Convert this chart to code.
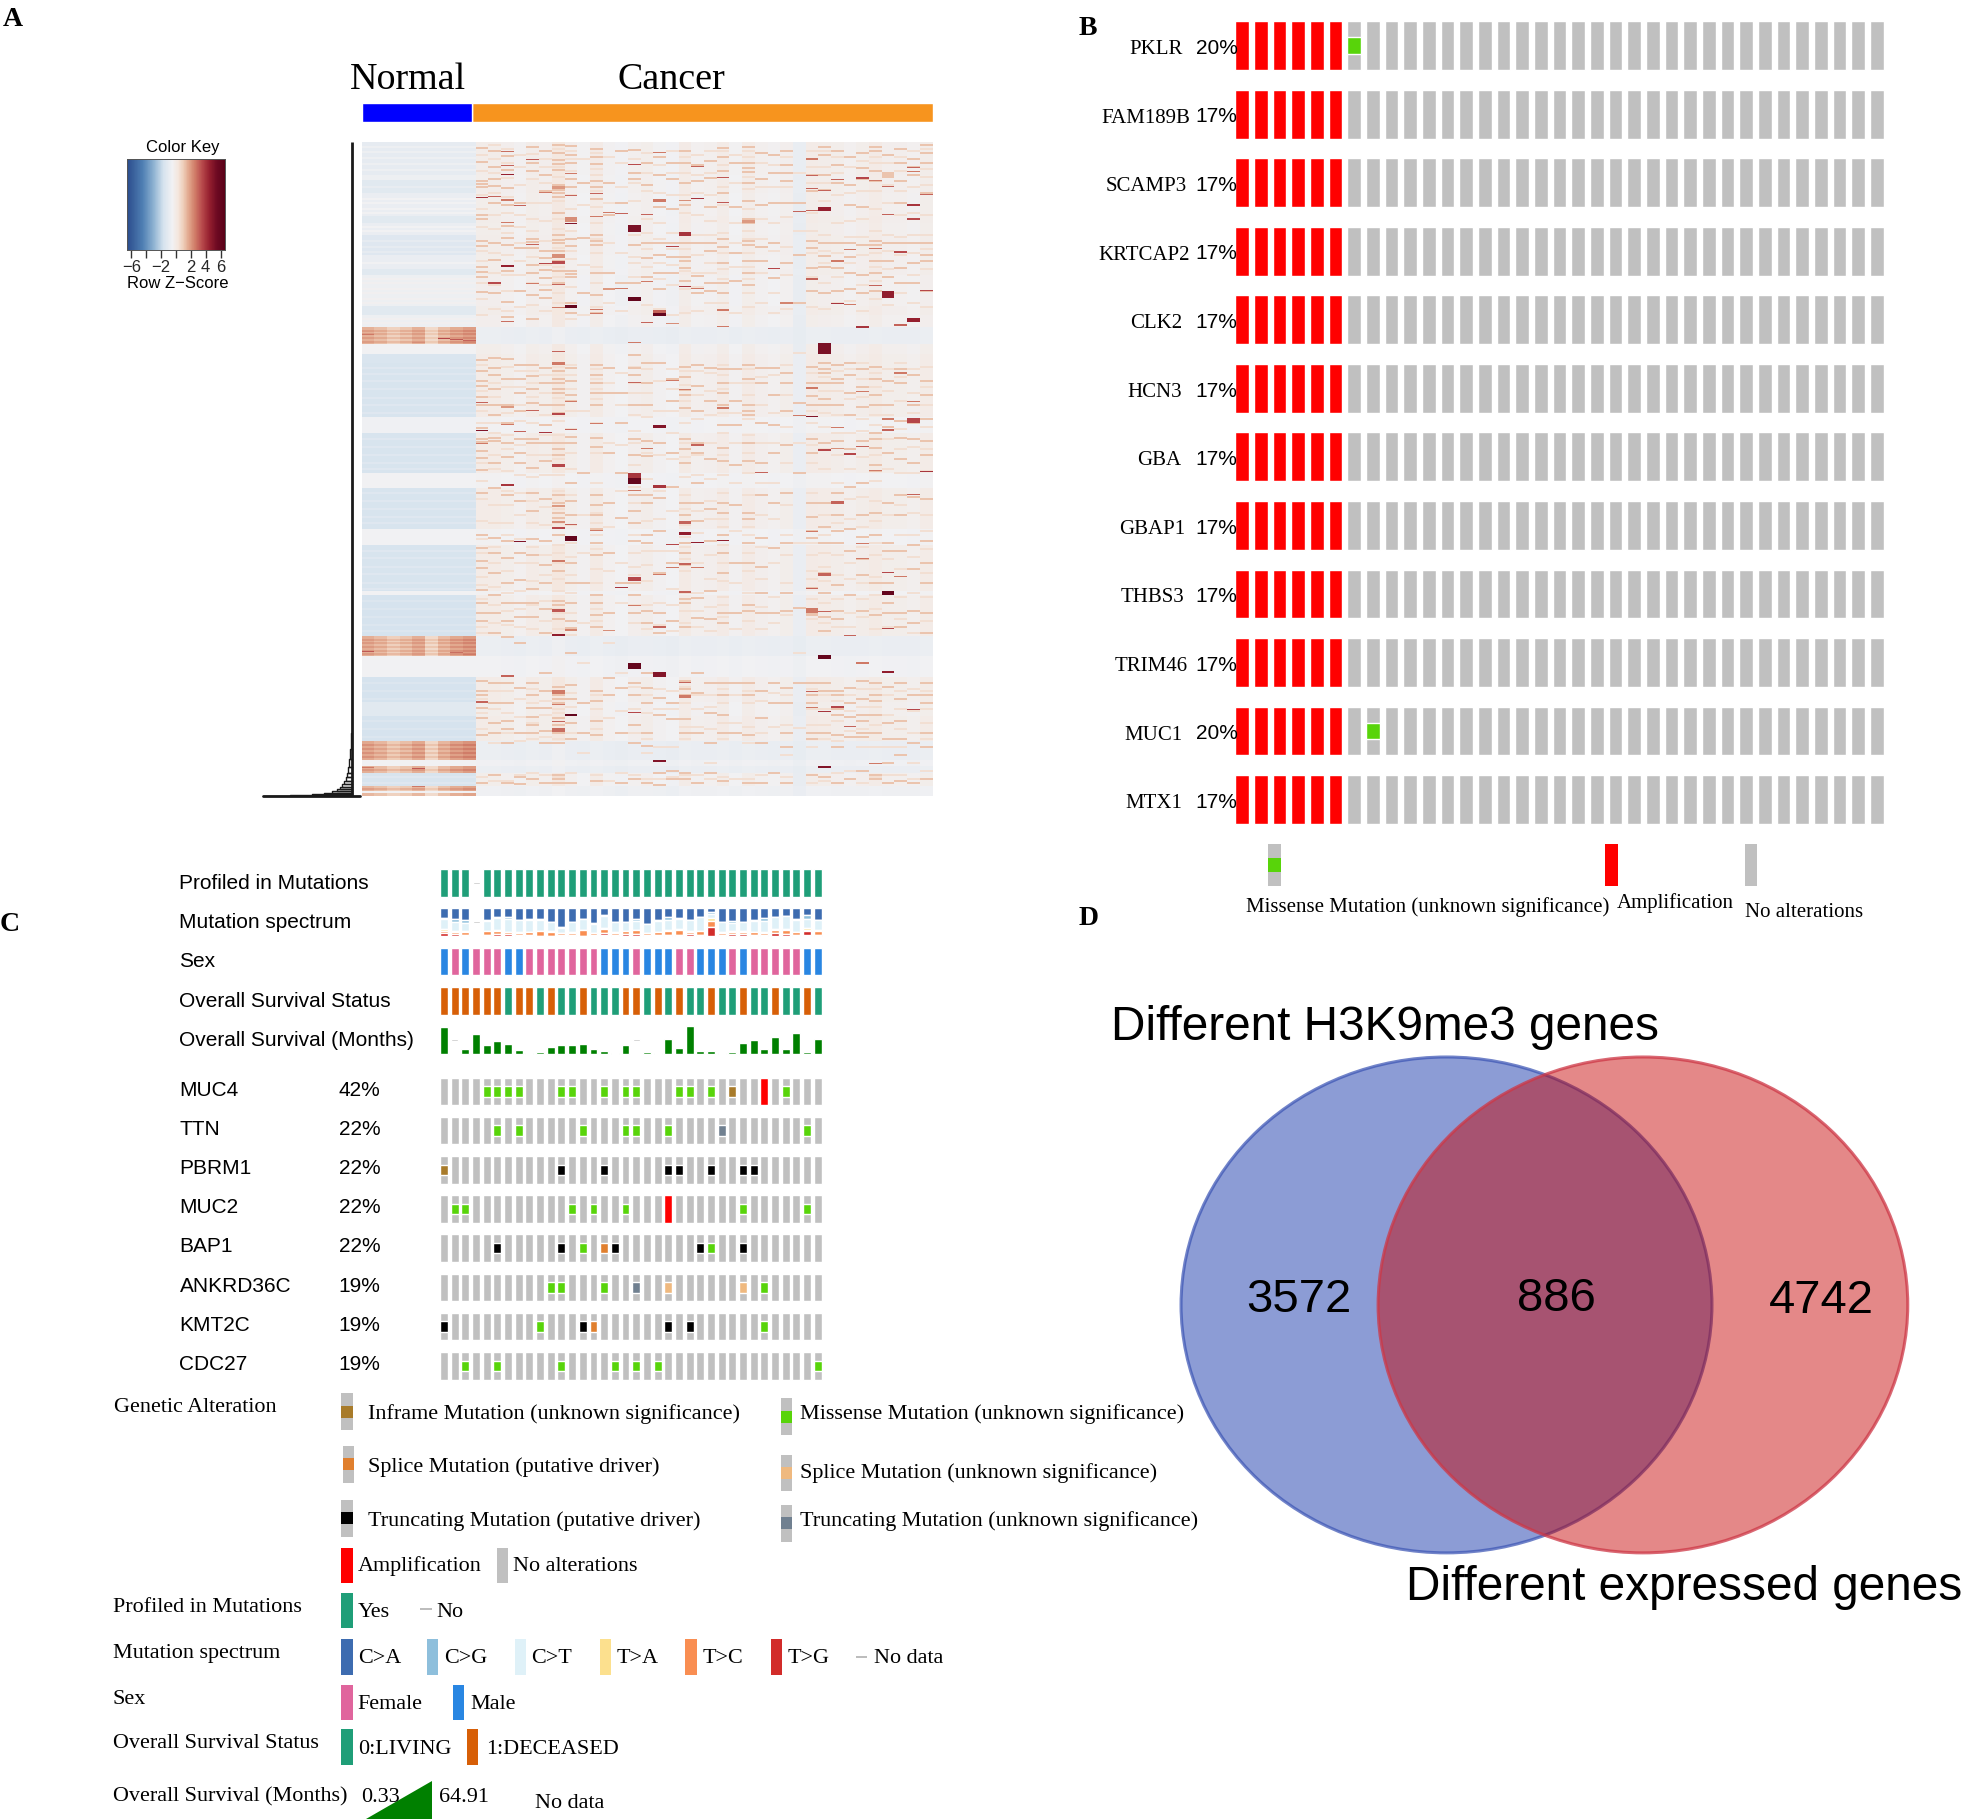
import numpy as np, pandas as pd, matplotlib
matplotlib.use('Agg')
import matplotlib.pyplot as plt, seaborn as sns
from matplotlib.colors import LinearSegmentedColormap
from matplotlib.patches import Ellipse, Rectangle, Polygon

W, H = 1968, 1819
SERIF = 'Liberation Serif'; SANS = 'Liberation Sans'
sns.set_theme(style='white')
plt.rcParams['font.family'] = [SANS, 'DejaVu Sans']

# ------------------------------ Panel A data
n_rows = 654
band_ends   = [33,38,51,74,81,93,113,127,133,164,173,185,202,212,221,275,291,331,346,387,403,449,453,494,514,535,560,574,599,618,624,631,644,649,651,654]
band_normal = [-1.0,-.7,-1.2,-.8,-1.2,-.8,-1.3,-.8,-1.2,-.7,-1.2,-.7,1.25,-.5,-1.5,-1.6,-.6,-1.6,-.5,-1.6,-.5,-1.6,-.5,-1.7,1.3,-.5,-1.7,-1.2,-1.7,1.4,-.5,1.3,-1.6,1.2,-.5,1.2]
band_cancer = [-.45,-.5,-.45,-.5,-.45,-.5,-.45,-.5,-.45,-.52,-.45,-.52,-.85,-.5,-.4,-.4,-.55,-.4,-.55,-.4,-.55,-.4,-.55,-.4,-.85,-.6,-.4,-.5,-.4,-.85,-.65,-.85,-.5,-.7,-.7,-.7]
normal_col_weight = [1.2,1.0,.7,.9,1.2,.5,1.0,1.3,1.5]
normal_stripe_rows = [188,191,195,199,497,500,504,508,511,602,606,610,614,627,646]
normal_pale_rows = [4,9,15,21,27,44,56,60,66,70,84,88,98,104,109,120,136,140,146,150,156,160,176,180,225,231,238,246,255,262,270,296,304,312,320,326,350,358,366,374,380,408,415,424,431,440,446,458,466,474,482,488,540,548,556,578,586,594,634,640]
normal_hot = [(0,192,2.6),(4,200,2.2),(6,196,3.6),(7,197,3.2),(8,198,3.0),(0,509,3.2),(7,510,2.8),(8,512,2.6),(0,625,2.6),(4,626,3.2),(8,627,2.4),(4,644,2.6)]
cancer_tint = [.3,.3,.2,.05,.3,.2,.65,.2,.0,.4,.05,-.1,.15,.25,.0,-.1,.4,.1,.15,.35,.0,.35,.15,.05,.2,-.4,.35,.3,.25,.1,.25,.4,.2,.2,.1,.3]

mid_rows = [
 [5,19,38,41,44,72,76,98,103,124,129,134,149,217,228,238,243,254,262,285,296,299,308,315,327,350,392,405,418,425,447,460,470,478,538,548,552,565,575,592,640],
 [8,24,36,43,60,100,117,150,215,225,232,246,262,272,295,298,320,345,395,410,430,452,470,490,540,560,580,590,632],
 [13,27,45,62,83,95,102,128,159,174,216,236,262,280,300,314,352,398,415,440,460,478,494,540,560,578,586,600,640],
 [60,105,148,222,236,250,268,296,310,320,358,410,437,460,474,500,545,590,634,641],
 [4,20,28,96,99,105,122,130,152,176,222,233,246,260,296,300,325,350,368,396,412,446,460,474,540,552,565,574,582,590,636],
 [8,32,48,108,115,127,135,147,155,225,240,262,282,300,318,356,398,422,440,466,490,530,548,565,588,600,640],
 [2,10,17,21,27,42,44,47,50,54,70,92,97,100,108,118,128,140,220,228,236,240,246,250,262,270,300,306,312,352,360,370,375,392,428,458,462,476,544,552,556,560,575,582,590,600,632,636,640],
 [3,12,20,36,44,75,96,103,128,131,134,160,170,225,238,252,258,294,300,340,358,372,395,420,440,460,478,485,510,542,556,580,596,640],
 [40,95,150,330,440,560,590],
 [6,14,21,38,44,56,92,98,102,130,152,170,222,232,240,250,262,295,304,352,362,372,386,400,412,452,460,472,484,548,558,578,592,638],
 [40,72,130,225,250,310,360,410,470,535,552],
 [8,60,140,250,280,330,375,440,545,590,640],
 [7,30,36,102,140,212,225,232,262,296,312,352,368,380,398,440,452,470,540,552,582,600,636],
 [20,42,100,115,134,220,240,262,298,313,352,360,392,400,468,480,530,545,560,590,603,640],
 [14,32,64,100,112,130,146,220,300,355,388,430,470,490,555,572,630,642],
 [20,36,66,100,114,130,236,258,310,344,420,478,560,576,628,636],
 [8,20,40,62,100,114,118,125,138,224,234,247,252,265,296,306,320,360,372,390,400,410,422,456,460,484,538,546,552,576,590,630,636],
 [22,38,100,133,150,222,243,268,300,310,340,360,378,455,475,530,550,590,640],
 [18,35,64,100,108,140,148,225,258,316,366,398,448,476,540,570,600,630],
 [5,14,28,50,96,104,120,140,150,226,240,250,262,282,305,318,360,370,392,410,430,470,480,540,552,572,590,638],
 [20,64,110,138,226,258,282,322,362,420,470,540,590],
 [4,20,25,29,40,58,76,80,98,102,118,130,142,222,236,262,268,272,300,318,370,376,400,420,462,468,540,552,592,640],
 [10,36,62,104,118,225,240,280,320,352,395,424,450,470,548,575,600,640],
 [12,30,60,100,135,225,252,282,310,360,405,470,540,560,630],
 [8,22,30,38,60,120,230,240,268,302,350,400,450,468,545,560,590,604,640],
 [60,112,160,260,330,465,540],
 [16,32,48,98,105,125,148,224,240,253,262,296,310,360,374,388,395,445,468,470,472,540,552,560,590,596,632],
 [4,12,32,47,100,113,124,150,220,226,230,240,256,262,300,360,384,400,430,450,474,488,540,548,590,634],
 [8,22,40,100,118,125,148,222,236,240,262,298,350,372,388,400,442,468,476,548,552,566,572,592,604,640],
 [14,42,62,100,114,130,146,220,232,250,272,306,344,386,408,452,545,560,574,594,636],
 [10,25,36,64,102,132,150,226,244,264,298,340,372,394,416,432,468,538,556,572,578,590,594,628],
 [4,8,28,38,98,102,118,130,148,224,236,252,262,290,296,305,322,328,370,392,440,472,540,552,558,572,590,632,636],
 [12,30,32,34,100,118,134,238,262,284,310,360,400,408,440,460,470,544,580,596,620,640],
 [6,20,38,60,100,125,140,226,240,278,295,316,352,372,408,470,484,540,556,578,596,612,638],
 [16,24,32,100,120,140,232,262,280,296,320,354,402,426,468,480,552,600,640],
 [2,10,20,50,100,112,118,148,238,252,276,298,312,356,398,420,440,470,490,540,552,560,590,604,636],
]
faint_rows = [
 [12,28,52,66,84,108,118,140,156,172,222,248,268,280,320,338,356,378,396,410,434,442,456,484,490,556,570,586,634],
 [2,16,30,50,72,86,110,130,142,166,240,254,280,290,312,326,362,380,404,420,444,462,480,548,566,600,638],
 [6,20,35,54,70,90,112,132,148,168,224,244,270,292,306,328,348,362,380,392,428,450,468,482,548,570,590,638],
 [12,24,42,72,84,100,118,132,164,228,244,262,278,302,332,350,372,396,420,448,466,484,556,574,598,632],
 [11,36,60,76,88,114,140,162,228,240,254,280,312,334,358,380,404,420,438,462,486,546,560,580,596,630],
 [16,24,40,60,78,98,122,142,168,232,250,272,292,312,332,364,382,412,432,458,478,558,572,594,632],
 [6,24,34,58,76,86,105,114,124,134,150,160,224,232,255,278,292,316,332,348,366,380,402,410,420,436,448,466,470,486,548,566,570,586,596,634],
 [8,16,28,52,66,88,108,116,144,176,222,232,246,268,286,310,326,352,382,400,414,432,450,470,492,550,564,590,630],
 [16,62,122,172,268,372,410,480,520,610],
 [10,26,32,48,64,80,96,110,124,140,164,226,236,246,256,280,310,340,370,380,392,406,426,440,466,478,552,566,586,632],
 [14,60,100,160,240,300,384,428,500,575,638],
 [20,44,110,168,230,262,302,348,420,460,530,568,630],
 [16,40,58,92,114,120,134,156,224,240,250,272,288,300,322,344,360,392,410,424,432,462,480,544,566,590,632],
 [10,30,48,76,90,106,124,162,226,250,274,310,336,378,408,422,438,462,486,552,570,596,610,636],
 [22,50,80,96,120,136,166,238,268,312,348,376,408,460,482,546,566,604,636],
 [8,30,52,90,106,122,142,172,226,246,268,290,316,368,408,446,462,488,548,566,604,634],
 [14,30,52,70,92,106,128,146,170,228,242,258,280,300,314,334,352,366,382,394,404,416,428,450,468,480,544,560,584,596,632],
 [12,32,50,72,92,112,130,144,168,228,252,276,312,332,368,390,420,450,468,484,552,566,584,632],
 [8,30,52,78,92,120,130,160,230,248,272,300,336,358,376,412,436,464,488,552,564,586,620,636],
 [8,22,44,62,90,110,126,136,160,222,232,246,270,290,312,332,350,376,384,402,420,438,454,462,474,546,560,580,596,634],
 [12,40,80,100,124,170,240,270,300,340,388,440,486,552,580,636],
 [8,14,34,46,66,88,96,110,124,136,150,164,226,240,252,276,292,310,330,352,384,392,410,428,450,478,548,560,584,600,636],
 [20,44,76,96,130,160,234,262,300,340,372,404,436,464,486,558,590,632],
 [22,44,80,108,150,170,232,270,300,340,376,420,454,480,550,584,630],
 [14,44,74,104,132,166,222,252,284,320,362,392,412,440,472,552,582,612,634],
 [30,88,210,300,400,510,585],
 [8,24,40,70,88,110,134,164,230,268,280,302,320,350,400,412,428,436,456,476,546,566,582,604,640],
 [8,24,40,58,92,108,120,140,166,234,248,270,284,306,326,372,392,410,424,438,460,480,552,566,582,596,638],
 [14,30,52,80,110,134,160,228,248,272,290,312,340,360,380,412,432,456,484,558,578,598,630],
 [24,50,78,94,120,158,226,256,290,326,356,376,420,436,470,484,552,568,588,628],
 [18,48,76,94,112,142,168,220,236,254,276,288,314,354,384,404,440,456,474,546,564,586,604,640],
 [14,20,48,66,88,110,124,138,156,230,244,272,282,312,338,358,378,400,412,434,452,466,486,546,564,582,604,634],
 [20,42,60,92,108,126,162,226,248,272,296,326,372,416,450,484,552,572,604,632],
 [14,28,48,72,94,112,150,220,234,258,286,306,330,362,392,426,454,476,548,566,586,604,632],
 [8,44,70,92,110,132,160,226,250,270,304,330,370,392,414,450,490,546,568,590,620,636],
 [6,26,34,42,72,92,106,126,164,224,244,262,284,306,328,372,388,406,430,454,478,548,566,580,596,628],
]
# (cancer column, first row, thickness in rows, z-score)
hot_streaks = [
 (0,55,1,4),(1,54,1,3),(1,140,2,3.5),(2,9,1,2.8),(2,23,1,3),(2,32,1,4.5),(2,57,2,2.6),(2,80,1,2.6),(2,123,2,4.5),(2,179,1,2.8),
 (3,63,1,3),(4,17,1,3.2),(4,102,1,3),(4,141,1,2.6),(5,50,1,2.6),(5,121,1,3.6),(6,44,3,2),(6,119,3,3.5),(6,112,4,2.2),(6,142,1,3),(6,165,1,2.6),(6,209,1,3),
 (7,31,1,2.6),(7,53,1,3),(7,81,1,5),(7,75,5,2.2),(7,163,3,6),(9,51,1,3),(9,74,1,2.6),(9,167,1,2.6),(9,171,1,2.6),(10,70,1,2.6),(10,146,2,2),(11,71,1,3),(11,146,1,2.6),
 (12,22,1,3.5),(12,83,7,5.2),(12,155,4,6),(12,200,1,2.6),(13,72,1,3),(13,180,1,3),(13,139,1,2.6),(14,10,1,2.6),(14,57,3,2.6),(14,168,3,3),(14,171,3,6),
 (15,104,1,3.6),(15,181,1,2.2),(16,90,4,4),(16,144,1,4),(16,58,1,2.2),(17,24,1,3),(17,56,1,4),(17,146,1,2.6),(19,35,1,3.2),(19,60,1,3.2),(19,167,2,2.6),(19,184,1,2.6),
 (21,78,3,2),(23,126,1,3.6),(24,160,2,2.4),(25,69,1,3),(26,16,2,2.6),(26,33,1,3),(26,46,1,3),(26,68,1,3),(26,136,2,3),(27,48,1,3),(27,65,4,4.5),(27,201,11,5.2),
 (28,37,1,3),(28,161,1,4),(28,118,2,2.6),(29,107,1,2.6),(29,162,1,2.6),(30,35,2,3.6),(30,184,2,4),(31,38,1,2.6),(31,106,1,2.6),(31,143,1,3),
 (32,44,1,3),(32,72,1,3),(32,149,7,4.6),(33,109,2,3.5),(33,182,2,3),(34,25,1,3),(34,29,1,2.6),(34,62,2,4),(34,76,2,3.5),(34,176,4,4.5),(35,52,1,3),(35,148,1,3.6),
 (0,260,1,3),(0,288,1,5),(0,301,1,2.6),(2,264,2,2),(2,282,1,2.6),(2,342,2,4),(3,289,1,3),(3,399,1,5),(4,268,1,3),(5,290,1,4),(6,220,3,2.6),(6,271,2,3.6),(6,322,3,3.6),(6,363,2,2),(6,385,2,3.6),(6,379,2,2.2),(6,418,2,2.6),
 (7,259,1,2.6),(7,287,1,3),(7,382,1,3),(7,394,5,6),(9,281,1,2.6),(9,388,1,2.6),(12,240,1,3),(12,331,5,4),(12,336,6,6),(12,348,1,2.6),(12,435,4,3.6),(13,306,1,2.6),
 (14,283,3,5),(14,343,3,4),(14,432,1,2.6),(15,238,1,2.6),(15,402,1,3.6),(15,425,1,2.6),(16,247,1,2.6),(16,379,3,3),(16,390,3,4.6),(16,421,2,3),(17,302,2,3),(17,400,1,4.6),(17,425,1,2.6),
 (19,265,2,2.6),(19,398,1,4.6),(22,330,1,3),(25,273,1,2.6),(26,245,2,2.6),(26,274,1,5),(26,389,1,2.6),(27,307,2,3.6),(27,431,3,3),(28,285,1,2.6),(28,359,3,3),(28,306,1,2.2),(29,311,2,3.6),
 (30,304,1,3),(30,249,1,2.6),(30,401,1,2.6),(30,416,1,2.6),(31,328,1,2.6),(32,287,2,3),(32,276,2,2.6),(32,430,1,3.6),(33,230,2,2.6),(33,434,1,2.6),(34,276,5,3.6),(34,259,1,2.6),(34,352,1,3),(35,329,1,4),
 (6,467,3,3.2),(6,492,2,4.6),(6,548,4,2.6),(6,586,4,2.8),(6,579,1,3),(6,562,1,2.6),(7,572,2,6),(7,487,2,2.4),(11,445,1,4),(12,521,6,6),(12,463,1,2.6),(12,570,1,3.6),(14,484,2,3),(14,530,5,5),(14,618,2,5),
 (16,449,2,3),(16,553,3,2.6),(16,540,1,3),(10,488,1,2.2),(2,533,2,3),(0,559,2,3),(26,446,1,3),(26,466,5,2.6),(26,549,1,3),(26,565,1,2.6),(27,469,1,3),(27,513,4,6),(27,569,1,4),(27,624,2,5),
 (28,564,2,3.6),(29,493,1,3),(29,584,1,3),(30,520,2,2.6),(32,449,4,6),(32,486,1,3.6),(32,529,2,4.6),(34,567,1,3.6),(31,621,1,2.6),
]
dendro_lo     = [653,652,651,650,648,646,644,641,638,634,630,624,616,606,590]
dendro_hi     = [654,653,652,651,650,648,646,644,641,638,634,630,624,616,606]
dendro_height = [89,62,40,28,20,15,12,10,8,6,5,4,3,2,1]
group_share = [19.3, 80.7]
key_ticks = [-6,-4,-2,0,2,4,6]
key_labels = ['\u22126','','\u22122','','2','4','6']

# ------------------------------ Panel B data
b_genes = ['PKLR','FAM189B','SCAMP3','KRTCAP2','CLK2','HCN3','GBA','GBAP1','THBS3','TRIM46','MUC1','MTX1']
b_pct = ['20%','17%','17%','17%','17%','17%','17%','17%','17%','17%','20%','17%']
b_label_right = [942,948,946,948,942,942,941,944,944,946,942,942]
b_cols = 35; b_amp_cols = 6
b_missense = {0:6, 10:7}

# ------------------------------ Panel C data
c_tracks = ['Profiled in Mutations','Mutation spectrum','Sex','Overall Survival Status','Overall Survival (Months)']
sex = list('MFMFFFMMFFFFFFFMMMFMMMFFMMMFMFFFFFMM')
status = list('DDDDDDLDDLDLLDLLLDDLDLDLLDLLDLLDLLDL')
months = [63.4,np.nan,11.6,46.4,20.9,30.1,23.2,9.3,1.5,5.4,15.5,20.9,20.9,23.2,12.4,7.0,1.5,20.9,np.nan,3.9,1.5,35.5,13.1,64.9,7.0,6.2,2.3,3.1,24.7,31.7,11.6,40.2,12.4,47.9,3.1,34.8]
ca = [36,40,44,0,44,33,33,42,40,38,48,69,48,38,54,26,49,48,38,56,44,33,36,42,30,12,50,46,49,43,36,30,27,39,26,42]
cg = [1,10,9,0,2,2,5,2,2,6,2,2,2,2,3,3,2,1,7,1,1,8,3,2,2,8,1,7,1,2,10,2,2,5,11,2]
ct = [38,31,30,0,36,42,47,42,43,38,31,19,36,38,33,42,36,32,33,31,40,37,37,39,50,15,35,31,33,40,40,44,46,42,36,35]
ta = [7,6,2,0,2,4,2,2,2,2,5,1,2,2,1,5,2,1,2,1,2,3,2,2,1,12,2,2,2,2,2,3,4,1,4,4]
tc = [8,6,12,0,12,12,7,10,10,16,14,5,7,19,5,12,7,12,14,6,8,17,19,8,14,21,8,8,8,9,7,12,15,9,6,12]
tg = [10,7,3,0,4,7,5,2,3,0,0,2,5,0,2,10,4,5,5,5,2,2,3,6,3,31,4,6,7,4,5,9,6,4,13,5]
c_genes = ['MUC4','TTN','PBRM1','MUC2','BAP1','ANKRD36C','KMT2C','CDC27']
c_pct = ['42%','22%','22%','22%','22%','19%','19%','19%']
missense = [[4,5,6,7,11,12,15,17,18,22,23,25,32],[5,7,13,17,18,21,34],[],[1,2,12,14,17,28,34],[13,25],[10,11,15,30],[9,30],[2,5,11,16,18,20,35]]
trunc_driver = [[],[],[11,15,21,22,25,28,29],[],[5,11,16,24,28],[],[0,13,21,23],[]]
trunc_unknown = [[],[26],[],[],[],[18],[],[]]
inframe = [[27],[],[0],[],[],[],[],[]]
splice_driver = [[],[],[],[],[15],[],[14],[]]
splice_unknown = [[],[],[],[],[],[21,28],[],[]]
amplified = [[30],[],[],[21],[],[],[],[]]

# ------------------------------ Panel D data
venn_counts = ['3572','886','4742']
venn_names = ['Different H3K9me3 genes','Different expressed genes']

key_stops = [-6.6,-4.5,-3,-1.7,-.5,.3,1,1.7,2.6,3.5,4.5,5.5,6.6]
key_colors = ['#2b4c8c','#4f7fb3','#8fb3d2','#d6e3ee','#f1f1f3','#f4e6dd','#eecdb8','#e2a88e','#cf7a66','#b84a4c','#96202f','#6e0a22','#5a0218']

C_GRAY='#c0c0c0'; C_RED='#ff0000'; C_MIS='#58d40a'; C_INF='#a87b2a'; C_SPD='#e07f2e'; C_SPU='#efb97f'; C_TRU='#708090'
C_GRN='#1f9e78'; C_ORG='#d75f07'; C_PNK='#e0659d'; C_BLU='#2986e2'; C_DG='#008000'
SPEC=['#3d6cb0','#8ebfdc','#dff1f8','#fce08e','#f98e52','#d22c2a']

fig = plt.figure(figsize=(W/100, H/100), dpi=100, facecolor='white')
def box(x0, y0, x1, y1, **k):
    return fig.add_axes([x0/W, 1-y1/H, (x1-x0)/W, (y1-y0)/H], **k)

# ---- heatmap
rows = np.arange(n_rows)
band_idx = np.searchsorted(band_ends, rows, side='right')
normal = np.zeros((n_rows, 9))
bn = np.array(band_normal)[band_idx]; bc = np.array(band_cancer)[band_idx]
red = bn > 0
for j, w in enumerate(normal_col_weight):
    normal[:, j] = np.where(red, bn*w, bn)
for r in normal_pale_rows:
    normal[r:r+2, :] += .3
for r in normal_stripe_rows:
    normal[r:r+2, :] += .45
for c, r, z in normal_hot:
    normal[r, c] = z
cancer = np.zeros((n_rows, 36))
for c in range(36):
    scale = np.where(bc < -.52, .3, 1.0)
    cancer[:, c] = bc + cancer_tint[c]*scale
    for r in faint_rows[c]:
        cancer[r:r+2, c] = np.maximum(cancer[r:r+2, c], .5)
    for r in mid_rows[c]:
        cancer[r:r+2, c] = 1.15
for c, r, t, z in hot_streaks:
    cancer[r:r+t, c] = z
matrix = pd.DataFrame(np.hstack([normal, cancer]))
cmap = LinearSegmentedColormap.from_list('key', [((s+6.6)/13.2, k) for s, k in zip(key_stops, key_colors)], N=256)
ax = box(361.5, 142, 932.5, 796)
key = box(127, 159, 225, 250)
sns.heatmap(matrix, ax=ax, cmap=cmap, vmin=-6.6, vmax=6.6, xticklabels=False, yticklabels=False,
            cbar=True, cbar_ax=key, cbar_kws={'orientation':'horizontal'})
key.set_xticks(key_ticks); key.set_xticklabels(key_labels, fontsize=12)
key.tick_params(axis='x', length=6, width=1, color='#333333', pad=1, bottom=True)
for s in key.spines.values():
    s.set_visible(True); s.set_linewidth(.6); s.set_color('#555555')

# ---- group bar
ax = box(361.5, 103, 932.5, 122)
ax.barh([0], [group_share[1]], left=group_share[0], color='#f7941e', height=1)
ax.barh([0], [group_share[0]], color='#0000ff', height=1)
ax.set_xlim(0, 100); ax.set_ylim(-.5, .5); ax.axis('off')

# ---- dendrogram
ax = box(255, 142, 360, 797)
ax.set_xlim(97, -8); ax.set_ylim(n_rows, 0); ax.axis('off')
ax.plot([0, 0], [0, n_rows], color='k', lw=2.0, solid_capstyle='butt')
for lo, hi, h in zip(dendro_lo, dendro_hi, dendro_height):
    ax.plot([0, h, h, 0], [lo, lo, hi, hi], color='k', lw=1.0)
ax.plot([dendro_height[0], -8], [n_rows-.5, n_rows-.5], color='k', lw=2, clip_on=False)

# ---- panel B oncoprint
ax = box(1235.3, 21.2, 1235.3+b_cols*18.67, 21.2+12*68.55)
ax.set_xlim(0, b_cols); ax.set_ylim(12, 0); ax.axis('off')
bw, bh = 13.6/18.67, 48.8/68.55
for r in range(len(b_genes)):
    colors = [C_RED if c < b_amp_cols else C_GRAY for c in range(b_cols)]
    ax.bar(np.arange(b_cols), [bh]*b_cols, bw, bottom=r, color=colors, align='edge')
    if r in b_missense:
        ax.bar([b_missense[r]], [bh/3], bw, bottom=r+bh/3, color=C_MIS, align='edge')

# ---- panel C tracks
pitch = 10.68
cw = 7.9/pitch; ch = 27.6/39.3
ax = box(440, 869, 440+36*pitch, 869+5*39.3)
ax.set_xlim(0, 36); ax.set_ylim(5, 0); ax.axis('off')
xs = np.arange(36)
def dash(a, x, r):
    a.bar([x+.05], [.04], cw*.9, bottom=r+ch/2-.02, color='#bdbdbd', align='edge')
ax.bar([x for x in xs if x != 3], [ch]*35, cw, bottom=0, color=C_GRN, align='edge')
dash(ax, 3, 0)
bottom = np.ones(36)
for vals, col in zip([ca, cg, ct, ta, tc, tg], SPEC):
    hts = np.array(vals, float)/100*ch
    ax.bar(xs, hts, cw, bottom=bottom, color=col, align='edge')
    bottom = bottom + hts
dash(ax, 3, 1)
ax.bar(xs, [ch]*36, cw, bottom=2, color=[C_BLU if s == 'M' else C_PNK for s in sex], align='edge')
ax.bar(xs, [ch]*36, cw, bottom=3, color=[C_GRN if s == 'L' else C_ORG for s in status], align='edge')
for x, m in zip(xs, months):
    if np.isnan(m):
        dash(ax, x, 4)
    else:
        h = max(m/64.91, .02)*ch
        ax.bar([x], [h], cw, bottom=4+ch-h, color=C_DG, align='edge')

# ---- panel C genes
ax = box(440, 1077.6, 440+36*pitch, 1077.6+8*39.2)
ax.set_xlim(0, 36); ax.set_ylim(8, 0); ax.axis('off')
gh = 27.6/39.2; mh = gh*.38
for r in range(8):
    ax.bar(xs, [gh]*36, cw, bottom=r, color=C_GRAY, align='edge')
    for lst, col in [(missense, C_MIS), (trunc_driver, 'black'), (trunc_unknown, C_TRU), (inframe, C_INF), (splice_driver, C_SPD), (splice_unknown, C_SPU)]:
        if lst[r]:
            ax.bar(lst[r], [mh]*len(lst[r]), cw, bottom=r+(gh-mh)/2, color=col, align='edge')
    if amplified[r]:
        ax.bar(amplified[r], [gh]*len(amplified[r]), cw, bottom=r, color=C_RED, align='edge')

# ---- overlay, in the shrunk-reference coordinates
ov = box(0, 0, W, H)
ov.set_xlim(0, 1568); ov.set_ylim(1449, 0); ov.axis('off'); ov.patch.set_alpha(0)
def T(x, y, s, size=15.9, fam=SERIF, ha='left', va='center', **k):
    ov.text(x, y+1.5, s, fontsize=size, family=fam, ha=ha, va=va, color='black', **k)
def swatch(x, y0, y1, col, mid=None, w=9):
    ov.add_patch(Rectangle((x, y0), w, y1-y0, fc=col, ec='none'))
    if mid:
        t = (y1-y0)/3
        ov.add_patch(Rectangle((x, y0+t), w, t, fc=mid, ec='none'))

for x, y, s in [(2, 14, 'A'), (859, 21, 'B'), (0, 735, 'C'), (859, 730, 'D')]:
    T(x, y, s, size=20, fontweight='bold')
T(325, 62, 'Normal', size=27.4, ha='center'); T(535, 62, 'Cancer', size=27.4, ha='center')
T(146, 116, 'Color Key', size=12, fam=SANS, ha='center')
T(142, 224, 'Row Z\u2212Score', size=12, fam=SANS, ha='center')

for i, (g, p, xr) in enumerate(zip(b_genes, b_pct, b_label_right)):
    T(xr, 38+54.6*i, g, size=15, ha='right')
    T(986, 37+54.6*i, p, size=15, fam=SANS, ha='right')
swatch(1010, 672, 706, C_GRAY, C_MIS, w=11)
swatch(1279, 672, 706, C_RED, w=10)
swatch(1390, 672, 706, C_GRAY, w=10)
T(993, 721, 'Missense Mutation (unknown significance)', size=15)
T(1288, 718, 'Amplification', size=15)
T(1390, 725, 'No alterations', size=15)

for i, s in enumerate(c_tracks):
    T(143, 702+31.3*i, s, size=15, fam=SANS)
for i, (g, p) in enumerate(zip(c_genes, c_pct)):
    T(143, 867+31.2*i, g, size=15, fam=SANS)
    T(303, 867+31.2*i, p, size=15, fam=SANS, ha='right')

T(91, 1120, 'Genetic Alteration')
for x, y0, tx, ty, col, s in [
    (272, 1110, 293, 1125, C_INF, 'Inframe Mutation (unknown significance)'),
    (622, 1114, 637, 1125, C_MIS, 'Missense Mutation (unknown significance)'),
    (273, 1152, 293, 1167, C_SPD, 'Splice Mutation (putative driver)'),
    (622, 1159, 637, 1172, C_SPU, 'Splice Mutation (unknown significance)'),
    (272, 1195, 293, 1210, 'black', 'Truncating Mutation (putative driver)'),
    (622, 1199, 637, 1210, C_TRU, 'Truncating Mutation (unknown significance)')]:
    swatch(x, y0, y0+29, C_GRAY, col)
    T(tx, ty, s)
swatch(272, 1233, 1261, C_RED); T(285, 1246, 'Amplification')
swatch(396, 1233, 1261, C_GRAY); T(409, 1246, 'No alterations')
T(90, 1279, 'Profiled in Mutations')
swatch(272, 1269, 1297, C_GRN); T(285, 1283, 'Yes')
ov.add_patch(Rectangle((335, 1281), 9, 1.6, fc='#bdbdbd', ec='none')); T(348, 1283, 'No')
T(90, 1316, 'Mutation spectrum')
for x, col, s in zip([272, 340, 410, 478, 546, 614], SPEC, ['C>A', 'C>G', 'C>T', 'T>A', 'T>C', 'T>G']):
    swatch(x, 1306, 1334, col); T(x+13.5, 1320, s)
ov.add_patch(Rectangle((682, 1319), 9, 1.6, fc='#bdbdbd', ec='none')); T(696, 1320, 'No data')
T(90, 1352, 'Sex')
swatch(272, 1342, 1370, C_PNK); T(285, 1356, 'Female')
swatch(361, 1342, 1370, C_BLU); T(375, 1356, 'Male')
T(90, 1387, 'Overall Survival Status')
swatch(272, 1377, 1406, C_GRN); T(285, 1392, '0:LIVING')
swatch(372, 1377, 1406, C_ORG); T(387, 1392, '1:DECEASED')
T(90, 1430, 'Overall Survival (Months)')
ov.add_patch(Polygon([(292, 1449), (344, 1449), (344, 1419)], fc=C_DG, ec='none'))
T(288, 1430, '0.33'); T(350, 1430, '64.91'); T(426, 1435, 'No data')

# ---- venn
ov.add_patch(Ellipse((1152.5, 1039.5), 423, 395, fc=(27/255, 59/255, 173/255, .5), ec=(60/255, 85/255, 180/255, .72), lw=2.2))
ov.add_patch(Ellipse((1309, 1039.5), 422, 395, fc=(199/255, 0, 0, .465), ec=(205/255, 55/255, 70/255, .75), lw=2.2))
T(1103.5, 817, venn_names[0], size=34.4, fam=SANS, ha='center')
T(1341.5, 1263, venn_names[1], size=34.4, fam=SANS, ha='center')
for x, y, s in zip([1035, 1240, 1451], [1034, 1033, 1035], venn_counts):
    T(x, y, s, size=34, fam=SANS, ha='center')

fig.savefig('out.png', dpi=100)
